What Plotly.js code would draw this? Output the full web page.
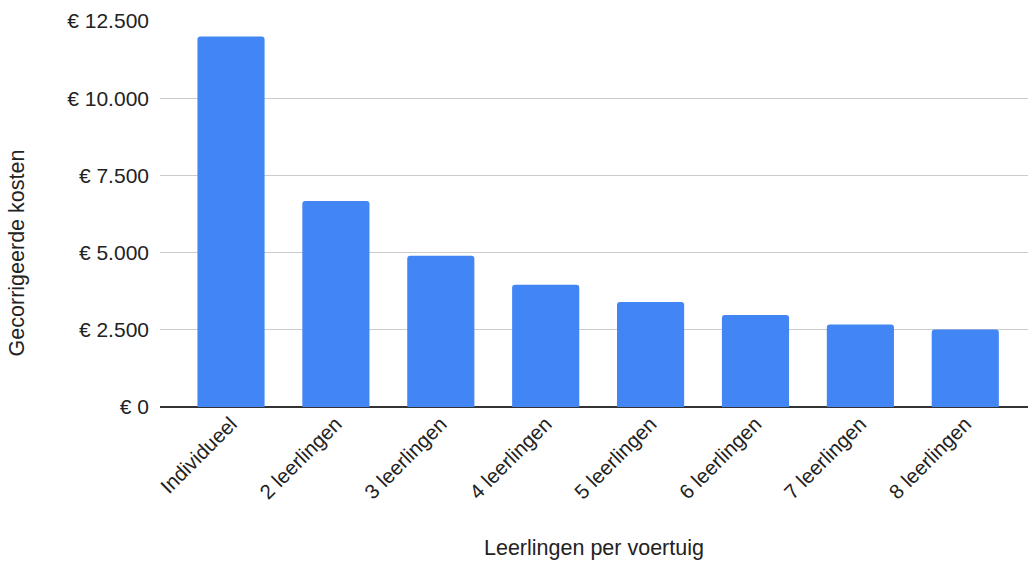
<!DOCTYPE html>
<html>
<head>
<meta charset="utf-8">
<script src="https://cdn.plot.ly/plotly-3.0.1.min.js"></script>
<style>html,body{margin:0;padding:0;background:#fff;}#chart{width:1028px;height:562px;}</style>
</head>
<body>
<div id="chart"></div>
<script>
const categories = ["Individueel", "2 leerlingen", "3 leerlingen", "4 leerlingen", "5 leerlingen", "6 leerlingen", "7 leerlingen", "8 leerlingen"];
const kosten = [12000, 6670, 4900, 3960, 3400, 2980, 2670, 2510];
const yTicks = [0, 2500, 5000, 7500, 10000, 12500];
const yTickText = ["€ 0", "€ 2.500", "€ 5.000", "€ 7.500", "€ 10.000", "€ 12.500"];
const xTitle = "Leerlingen per voertuig";
const yTitle = "Gecorrigeerde kosten";

const font = "Arial, 'Liberation Sans', sans-serif";

Plotly.newPlot("chart", [{
  type: "bar",
  x: categories,
  y: kosten,
  marker: {color: "#4285F4", cornerradius: 3},
  hoverinfo: "x+y"
}], {
  width: 1028, height: 562,
  margin: {l: 160, r: 0, t: 21, b: 155},
  paper_bgcolor: "#fff", plot_bgcolor: "#fff",
  separators: ",.",
  bargap: 0.36,
  font: {family: font, size: 21, color: "#222"},
  showlegend: false,
  xaxis: {
    type: "category",
    range: [-0.677, 7.598],
    tickangle: -45,
    showgrid: false,
    showline: false,
    zeroline: false,
    ticks: "",
    tickfont: {family: font, size: 20.5, color: "#222"},
    automargin: false
  },
  yaxis: {
    range: [0, 12500],
    tickmode: "array",
    tickvals: yTicks,
    ticktext: yTickText,
    showgrid: true,
    gridcolor: "#cccccc",
    gridwidth: 1,
    zeroline: true,
    zerolinecolor: "#333333",
    zerolinewidth: 1.5,
    showline: false,
    ticks: "",
    ticklabelstandoff: 10,
    tickfont: {family: font, size: 21, color: "#222"},
    automargin: false
  },
  annotations: [
    {text: xTitle, xref: "paper", yref: "paper", x: 0.5, y: -0.365, xanchor: "center", yanchor: "middle", showarrow: false, font: {family: font, size: 21.5, color: "#222"}},
    {text: yTitle, xref: "paper", yref: "paper", x: -0.165, y: 0.4, xanchor: "center", yanchor: "middle", textangle: -90, showarrow: false, font: {family: font, size: 21.5, color: "#222"}}
  ]
}, {displayModeBar: false, staticPlot: true});
</script>
</body>
</html>
